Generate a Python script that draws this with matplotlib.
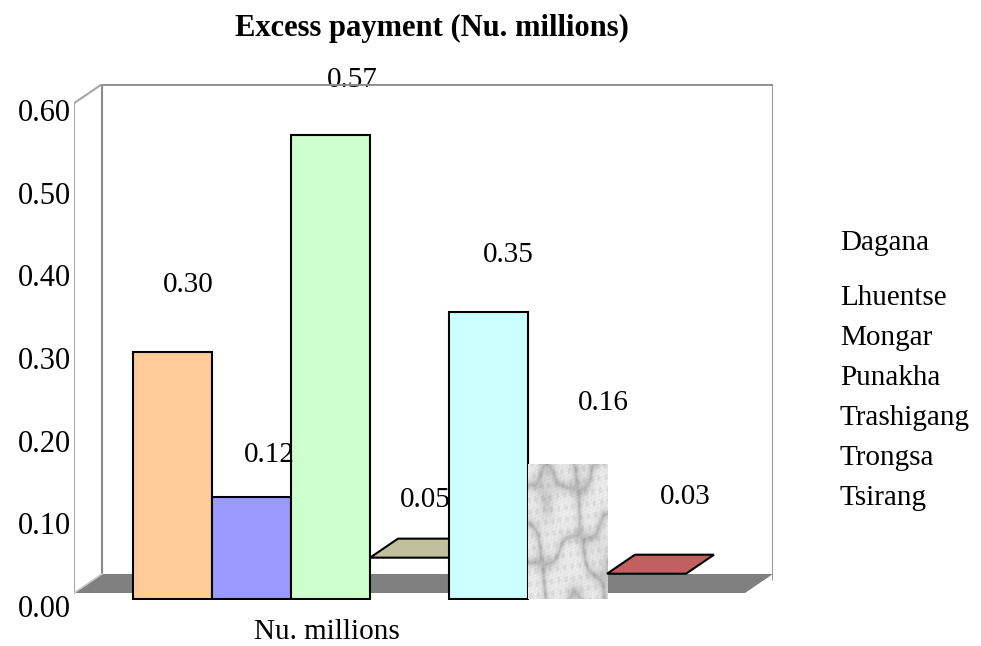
import numpy as np
import matplotlib
matplotlib.use("Agg")
import matplotlib.pyplot as plt
from matplotlib.patches import Rectangle, Polygon

plt.rcParams['font.family'] = ['Liberation Serif', 'DejaVu Serif']

# data
districts = ['Dagana', 'Lhuentse', 'Mongar', 'Punakha', 'Trashigang', 'Trongsa', 'Tsirang']
values = [0.30, 0.12, 0.57, 0.05, 0.35, 0.16, 0.03]
value_labels = ['0.30', '0.12', '0.57', '0.05', '0.35', '0.16', '0.03']
y_ticks = [0.0, 0.1, 0.2, 0.3, 0.4, 0.5, 0.6]
y_tick_labels = ['0.00', '0.10', '0.20', '0.30', '0.40', '0.50', '0.60']

# styling
colors = ['#FFCC99', '#9999FF', '#CCFFCC', '#C0C09C', '#CCFFFF', None, '#C06060']
flat = [False, False, False, True, False, False, True]   # drawn only as a top face
textured = [False, False, False, False, False, True, False]
lab_dx = [0.20, 0.23, 0.27, 0.20, 0.25, 0.45, 0.49]
lab_dy = [0.084, 0.052, 0.069, 0.066, 0.071, 0.077, 0.090]
FS = 21

W, H = 981, 646
fig = plt.figure(figsize=(W / 100, H / 100), dpi=100)

# main drawing axes (pixel box of the plot area incl. depth)
ax = fig.add_axes([74 / W, 1 - 600 / H, (773 - 74) / W, (600 - 84) / H])
x0, x1 = -0.7468, 7.747
ax.set_xlim(x0, 8.101)
ax.set_ylim(-0.00872, 0.6339)
ax.axis('off')

DX, DY = 0.354, 0.0237     # depth offset
top = 0.610
base = -0.0075

# floor
ax.add_patch(Polygon([(x0, 0), (x1, 0), (x1 + DX, DY), (x0 + DX, DY)],
                     closed=True, facecolor='#808080', edgecolor='none', zorder=1))
# walls
wall = dict(color='#8c8c8c', lw=2, zorder=6, solid_capstyle='butt')
ax.plot([x0 + DX, x1 + DX, x1 + DX], [top + DY, top + DY, 0.016], **wall)
ax.plot([x0 + DX, x0 + DX], [top + DY, DY], color='#8c8c8c', lw=1.5, zorder=1)
ax.plot([x0, x0, x0 + DX], [0, top, top + DY], color='#a6a6a6', lw=1.5, zorder=1)
ax.plot([x0, x0 + DX], [0, DY], color='#c8c8c8', lw=1.2, zorder=2)

# bars
for i, v in enumerate(values):
    if flat[i]:
        y = v - 0.006
        ax.add_patch(Polygon([(i, y), (i + 1, y), (i + 1 + DX, y + DY), (i + DX, y + DY)],
                             closed=True, facecolor=colors[i], edgecolor='black',
                             lw=1.5, zorder=3))
    elif textured[i]:
        # marble-like fill
        gx, gy = np.meshgrid(np.linspace(0, 1, 60), np.linspace(0, 1, 110))
        z = (np.sin(6 * gx + 4 * gy + 1.3) + np.sin(3 * gx - 8 * gy + 0.4)
             + 0.8 * np.sin(11 * gx + 9 * gy + 2.2) + 0.6 * np.sin(14 * gx - 12 * gy + 2.0))
        tex = 0.92 - 0.22 * np.exp(-np.abs(z) * 1.6)
        tex = tex - 0.05 * (np.sin(37 * gx + 29 * gy) * np.sin(31 * gx - 41 * gy) > 0.4)
        tex = tex + 0.03 * np.sin(151 * gx + 97 * gy) * np.sin(89 * gx - 133 * gy)
        ax.imshow(tex, cmap='gray', vmin=0, vmax=1, extent=[i, i + 1, base, v],
                  aspect='auto', interpolation='bilinear', zorder=3)
    else:
        ax.add_patch(Rectangle((i, base), 1, v - base, facecolor=colors[i],
                               edgecolor='black', lw=1.5, zorder=3))
    ax.text(i + 0.5 + lab_dx[i], v + lab_dy[i], value_labels[i], ha='center',
            va='center', fontsize=FS, zorder=5)

# value axis labels
lab_ax = fig.add_axes([74 / W, 1 - 606 / H, 0.01, (606 - 110) / H])
lab_ax.set_ylim(0, 0.6)
lab_ax.set_yticks(y_ticks)
lab_ax.set_yticklabels(y_tick_labels, fontsize=22)
lab_ax.tick_params(axis='y', length=0, pad=2)
lab_ax.set_xticks([])
for s in lab_ax.spines.values():
    s.set_visible(False)
lab_ax.patch.set_alpha(0)

# legend (text only)
for k, name in enumerate(districts):
    ypx = 243 if k == 0 else 298 + 40 * (k - 1)
    fig.text(840 / W, 1 - ypx / H, name, ha='left', va='center', fontsize=FS)

fig.text(432 / W, 1 - 28 / H, 'Excess payment (Nu. millions)', ha='center',
         va='center', fontsize=22, fontweight='bold')
fig.text(327 / W, 1 - 632 / H, 'Nu. millions', ha='center', va='center', fontsize=FS)

fig.savefig('out.png', dpi=100)
